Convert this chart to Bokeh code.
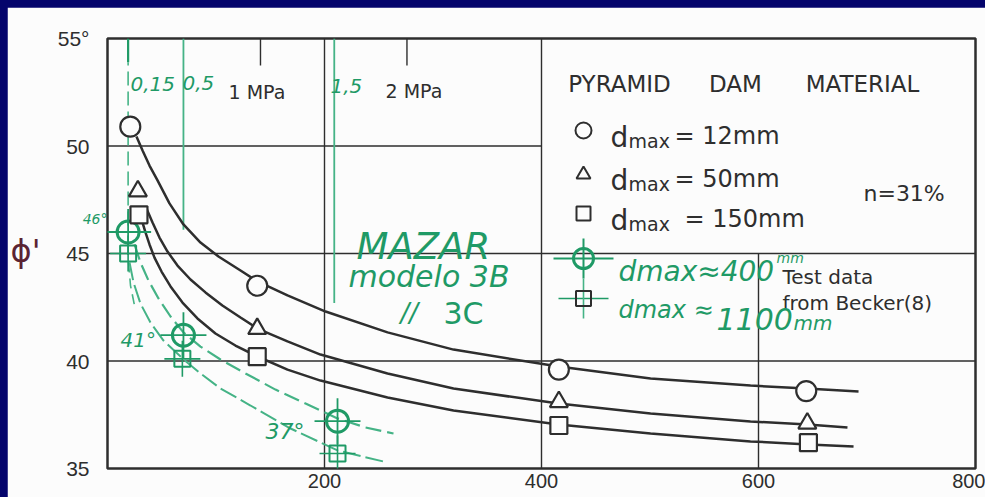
import numpy as np
from bokeh.plotting import figure
from bokeh.models import Label, Range1d, FixedTicker, LinearAxis
from bokeh.layouts import column
from bokeh.embed import file_html
from bokeh.resources import INLINE

# ---------------- data ----------------
x_ticks = [200, 400, 600, 800]
y_ticks = [35, 40, 45, 50, 55]

# Pyramid dam material, n = 31 %
x_12 = [21, 138, 416, 644]
phi_12 = [50.9, 43.5, 39.6, 38.6]
x_50 = [28, 138, 416, 645]
phi_50 = [47.9, 41.5, 38.1, 37.1]
x_150 = [29, 138, 416, 646]
phi_150 = [46.8, 40.2, 37.0, 36.2]

# hand-drawn fitted curves
c12_x = [26.7, 32.3, 38.7, 46.1, 57.1, 70.0, 85.7, 102.3, 122.6, 138.2, 165.9, 201.0, 258.1, 318.9, 415.7, 500.5, 592.6, 644.2, 692.2]
c12_y = [50.44, 49.79, 49.09, 48.40, 47.33, 46.35, 45.51, 44.86, 44.21, 43.70, 43.05, 42.30, 41.33, 40.53, 39.74, 39.19, 38.86, 38.72, 38.58]
c50_x = [35.9, 41.5, 47.9, 55.3, 64.5, 76.5, 90.3, 105.9, 122.6, 138.2, 165.9, 196.3, 258.1, 318.9, 415.7, 500.5, 592.6, 645.2, 682.0]
c50_y = [47.09, 46.44, 45.74, 45.09, 44.44, 43.79, 43.19, 42.58, 42.02, 41.51, 40.91, 40.30, 39.42, 38.72, 38.02, 37.56, 37.19, 37.05, 36.91]
c150_x = [32.3, 35.0, 38.7, 43.3, 49.8, 58.1, 69.1, 82.9, 99.5, 117.9, 138.2, 165.9, 196.3, 258.1, 318.9, 415.7, 500.5, 592.6, 646.1, 687.6]
c150_y = [46.44, 45.98, 45.42, 44.81, 44.16, 43.47, 42.72, 41.98, 41.28, 40.72, 40.21, 39.60, 39.09, 38.30, 37.70, 37.05, 36.63, 36.26, 36.12, 36.02]

# MAZAR model 3B / 3C (green, hand-drawn)
x_400 = [19, 70, 212]
phi_400 = [46.0, 41.2, 37.2]
x_1100 = [19, 69, 212]
phi_1100 = [45.0, 40.1, 35.7]
g400_x = [24.9, 30.4, 37.8, 47.0, 58.1, 70.0, 85.7, 104.1, 127.2, 154.8, 182.5, 212.0, 237.8, 263.6]
g400_y = [45.42, 44.58, 43.74, 42.91, 42.07, 41.33, 40.67, 40.07, 39.42, 38.67, 38.02, 37.33, 36.91, 36.63]
g1100_x = [20.3, 24.0, 30.4, 39.6, 51.6, 69.1, 85.7, 104.1, 131.8, 168.7, 212.0, 258.1]
g1100_y = [44.58, 43.65, 42.67, 41.79, 40.95, 40.12, 39.42, 38.72, 37.93, 36.86, 35.84, 35.28]
g3_x = [19.4, 21.2, 24.9]
g3_y = [44.58, 43.51, 42.58]
angle_labels = ["46°", "41°", "37°"]
angle_46_at = 46.6

# stress levels marked at the top
stress_labels = ["0,15", "0,5", "1,5"]
stress_x = [19, 70, 209]
stress_low = [46.3, 46.1, 42.7]
mpa_labels = ["1 MPa", "2 MPa"]
mpa_x = [141, 276]

# ---------------- styling ----------------
NAVY = "#04046c"
PAPER = "#fcfcfc"
INK = "#2e2e2e"
GREEN = "#1f9a66"
GREEN_L = "#45b386"
HAND = "DejaVu Sans"

def X(px):
    return (px - 107) / 1.085

def Y(py):
    return 55 - (py - 38) / 21.5

p = figure(width=978, height=490, x_range=Range1d(0, 800), y_range=Range1d(35, 55),
           output_backend="svg", toolbar_location=None,
           min_border_left=0, min_border_right=10, min_border_top=31, min_border_bottom=29,
           background_fill_color=PAPER, border_fill_color=PAPER,
           outline_line_color=INK, outline_line_width=2.5, margin=(7, 0, 0, 7))
p.xgrid.visible = False
p.ygrid.visible = False
xa = p.xaxis[0]
ya = p.yaxis[0]
for ax in (xa, ya):
    ax.axis_line_color = None
    ax.major_tick_line_color = None
    ax.minor_tick_line_color = None
    ax.major_tick_out = 0
    ax.major_tick_in = 0
    ax.major_label_text_font = "Liberation Sans"
    ax.major_label_text_font_size = "21px"
    ax.major_label_text_color = INK
xa.ticker = FixedTicker(ticks=x_ticks)
ya.ticker = FixedTicker(ticks=y_ticks)
ya.major_label_overrides = {55: "55°"}
xa.major_label_standoff = 5
ya.major_label_standoff = -10
xa.major_label_text_font_size = "20px"

# the green "46°" note sits between the tick labels and the frame: a label-only axis
a46 = LinearAxis(ticker=FixedTicker(ticks=[angle_46_at]), major_label_overrides={angle_46_at: angle_labels[0]},
                 axis_line_color=None, major_tick_line_color=None, minor_tick_line_color=None,
                 major_tick_out=0, major_tick_in=0,
                 major_label_text_font=HAND, major_label_text_font_style="italic",
                 major_label_text_font_size="14px", major_label_text_color=GREEN,
                 major_label_standoff=0)
# the phi' symbol as an extra, label-only left axis
phi_axis = LinearAxis(ticker=FixedTicker(ticks=[45.1]), major_label_overrides={45.1: "ϕ'"},
                      axis_line_color=None, major_tick_line_color=None, minor_tick_line_color=None,
                      major_tick_out=0, major_tick_in=0,
                      major_label_text_font="DejaVu Sans", major_label_text_font_size="32px",
                      major_label_text_color="#5b2333", major_label_standoff=14)
p.left = [a46, ya, phi_axis]

# grid (legend box area left free)
p.segment(x0=[200, 400, 600, 0, 0, 0], y0=[35, 35, 35, 40, 45, 50],
          x1=[200, 400, 600, 800, 800, 400], y1=[55, 55, 45, 40, 45, 50],
          line_color=INK, line_width=1.4)
# MPa ticks at top
p.segment(x0=mpa_x, y0=[53.75] * len(mpa_x), x1=mpa_x, y1=[55] * len(mpa_x),
          line_color=INK, line_width=1.4)

# green stress lines
p.segment(x0=stress_x[1:], y0=stress_low[1:], x1=stress_x[1:], y1=[55, 55],
          line_color=GREEN_L, line_width=1.8)
p.segment(x0=[stress_x[0]], y0=[53.9], x1=[stress_x[0]], y1=[55], line_color=GREEN, line_width=2.2)
p.segment(x0=[stress_x[0]], y0=[stress_low[0]], x1=[stress_x[0]], y1=[53.9],
          line_color=GREEN_L, line_width=1.6, line_dash="14 6")

# green hand-drawn curves
p.line(g400_x, g400_y, line_color=GREEN_L, line_width=2.2, line_dash="16 6")
p.line(g1100_x, g1100_y, line_color=GREEN_L, line_width=2.0, line_dash="18 5")
p.line(g3_x, g3_y, line_color=GREEN_L, line_width=1.6, line_dash="10 6")

# black curves
for cx, cy in ((c12_x, c12_y), (c50_x, c50_y), (c150_x, c150_y)):
    p.line(cx, cy, line_color=INK, line_width=2.5)

# green markers
p.scatter(x_400, phi_400, marker="cross", size=46, line_color=GREEN, line_width=1.8)
p.scatter(x_400, phi_400, marker="circle", size=22, line_color=GREEN, line_width=3, fill_alpha=0)
p.scatter(x_1100, phi_1100, marker="cross", size=36, line_color=GREEN, line_width=1.6)
p.scatter(x_1100, phi_1100, marker="square", size=16, line_color=GREEN, line_width=2, fill_alpha=0)

# black markers
p.scatter(x_12, phi_12, marker="circle", size=20, line_color=INK, line_width=2.2, fill_color=PAPER)
p.scatter(x_50, phi_50, marker="triangle", size=18, line_color=INK, line_width=2.2, fill_color=PAPER)
p.scatter(x_150, phi_150, marker="square", size=17, line_color=INK, line_width=2.2, fill_color=PAPER)

# legend symbols
lx = X(583)
p.scatter([lx], [Y(130)], marker="circle", size=16, line_color=INK, line_width=2, fill_color=PAPER)
p.scatter([lx], [Y(174)], marker="triangle", size=14, line_color=INK, line_width=2, fill_color=PAPER)
p.scatter([lx], [Y(213)], marker="square", size=14, line_color=INK, line_width=2, fill_color=PAPER)
p.scatter([lx], [Y(258)], marker="dash", size=60, line_color=GREEN, line_width=2)
p.scatter([lx], [Y(258)], marker="dash", size=40, angle=np.pi / 2, line_color=GREEN, line_width=2)
p.scatter([lx], [Y(258)], marker="circle", size=20, line_color=GREEN, line_width=3, fill_alpha=0)
p.scatter([lx], [Y(298)], marker="dash", size=50, line_color=GREEN, line_width=1.6)
p.scatter([lx], [Y(298)], marker="dash", size=40, angle=np.pi / 2, line_color=GREEN_L, line_width=1.6)
p.scatter([lx], [Y(298)], marker="square", size=15, line_color=INK, line_width=2, fill_alpha=0)


def lab(text, px, py, size, color=INK, font="DejaVu Sans", style="normal", align="left"):
    p.add_layout(Label(x=X(px), y=Y(py), text=text, text_font=font, text_font_size=f"{size}px",
                       text_font_style=style, text_color=color, text_align=align,
                       text_baseline="alphabetic"))


# title and legend texts
lab("PYRAMID", 619, 83, 23, align="center")
lab("DAM", 735, 83, 23, align="center")
lab("MATERIAL", 862, 83, 23, align="center")
for py, txt, eqx in ((137, "= 12mm", 674), (180, "= 50mm", 674), (220, "= 150mm", 684)):
    lab("d", 610, py, 28)
    lab("max", 628, py + 3, 19)
    lab(txt, eqx, py - 2, 24)
lab("n=31%", 863, 193, 22)
lab("Test data", 782, 276, 20)
lab("from Becker(8)", 782, 302, 20)

# MPa labels and stress labels
lab(mpa_labels[0], 228, 91, 19)
lab(mpa_labels[1], 385, 90, 19)
for t, px, py in zip(stress_labels, [130, 182, 330], [83, 82, 85]):
    lab(t, px, py, 20, color=GREEN, font=HAND, style="italic")

# green annotations
lab(angle_labels[1], 120, 339, 20, color=GREEN, font=HAND, style="italic")
lab(angle_labels[2], 265, 431, 22, color=GREEN, font=HAND, style="italic")
lab("MAZAR", 356, 246, 37, color=GREEN, font=HAND, style="italic")
lab("modelo 3B", 348, 276, 30, color=GREEN, font=HAND, style="italic")
lab("//", 400, 312, 26, color=GREEN, font=HAND, style="italic")
lab("3C", 443, 313, 30, color=GREEN, font=HAND)
lab("dmax≈400", 618, 271, 28, color=GREEN, font=HAND, style="italic")
lab("mm", 776, 257, 14, color=GREEN, font=HAND, style="italic")
lab("dmax ≈", 618, 309, 24, color=GREEN, font=HAND, style="italic")
lab("1100", 716, 318, 30, color=GREEN, font=HAND, style="italic")
lab("mm", 793, 322, 20, color=GREEN, font=HAND, style="italic")

layout = column(p, width=985, height=497, styles={"background-color": NAVY})

open("out.html", "w").write(file_html(layout, INLINE))
